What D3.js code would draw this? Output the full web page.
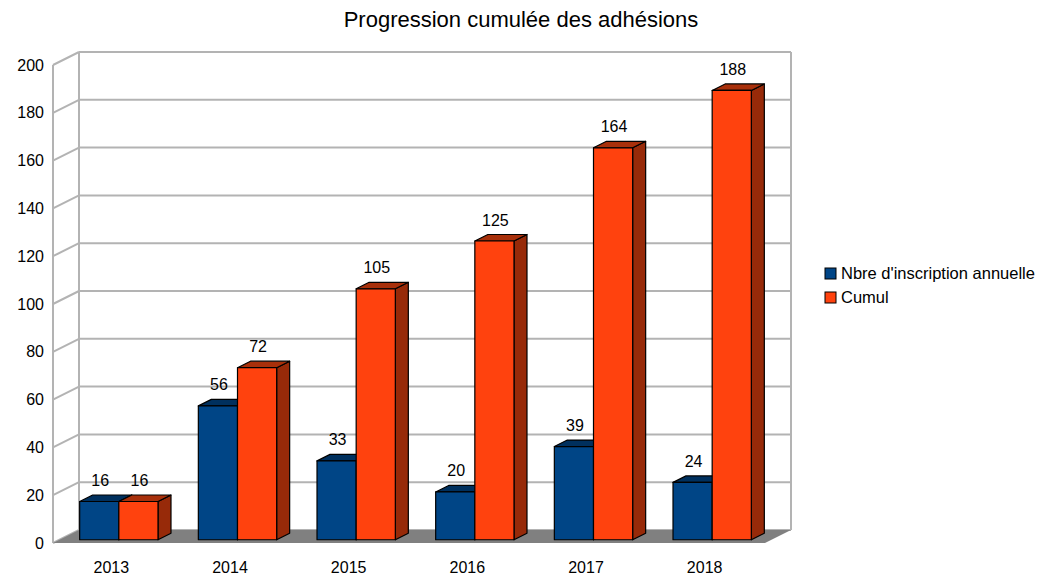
<!DOCTYPE html>
<html>
<head>
<meta charset="utf-8">
<script src="https://cdn.jsdelivr.net/npm/d3@7"></script>
<style>
  body { margin: 0; background: #fff; }
  text { font-family: "Liberation Sans", Arial, sans-serif; fill: #000; }
</style>
</head>
<body>
<script>
// data
const years = ["2013", "2014", "2015", "2016", "2017", "2018"];
const annuelle = [16, 56, 33, 20, 39, 24];
const cumul = [16, 72, 105, 125, 164, 188];
const seriesNames = ["Nbre d'inscription annuelle", "Cumul"];
const yTicks = [0, 20, 40, 60, 80, 100, 120, 140, 160, 180, 200];

const colors = {
  front: ["#004586", "#ff420e"],
  top: ["#00305e", "#a8300b"],
  side: ["#002b55", "#972a09"]
};

const W = 1046, H = 578;
const svg = d3.select("body").append("svg").attr("width", W).attr("height", H);

// front plane of the floor
const x = d3.scaleBand().domain(years).range([53, 765]).paddingInner(0.34).paddingOuter(0.17);
const xs = d3.scaleBand().domain([0, 1]).range([0, x.bandwidth()]);
const y = d3.scaleLinear().domain([0, 200]).range([543, 65]);

// depth of the wall / floor
const DX = 26, DY = 13;

const grid = "#b3b3b3";

// back wall grid lines
svg.append("g").selectAll("line").data(yTicks).join("line")
  .attr("x1", 53 + DX).attr("x2", 765 + DX)
  .attr("y1", d => y(d) - DY).attr("y2", d => y(d) - DY)
  .attr("stroke", grid).attr("stroke-width", 2);

// side wall lines
svg.append("g").selectAll("line").data(yTicks).join("line")
  .attr("x1", 53).attr("x2", 53 + DX)
  .attr("y1", d => y(d)).attr("y2", d => y(d) - DY)
  .attr("stroke", grid).attr("stroke-width", 2);

// wall verticals
[[53, 0], [53 + DX, -DY], [765 + DX, -DY]].forEach(([vx, off]) => {
  svg.append("line")
    .attr("x1", vx).attr("x2", vx)
    .attr("y1", y(0) + off).attr("y2", y(200) + off)
    .attr("stroke", grid).attr("stroke-width", 2);
});

// floor
svg.append("path")
  .attr("d", `M53,${y(0)} L765,${y(0)} L${765 + DX},${y(0) - DY} L${53 + DX},${y(0) - DY} Z`)
  .attr("fill", "#808080");

// y tick labels
const yAxis = svg.append("g").attr("transform", "translate(44,0)")
  .call(d3.axisLeft(y).tickValues(yTicks).tickSize(0).tickPadding(0));
yAxis.select(".domain").remove();
yAxis.selectAll("text").style("font-size", "16px").style("font-family", "Liberation Sans, Arial, sans-serif");

// category labels
svg.append("g").selectAll("text").data(years).join("text")
  .attr("x", d => x(d) + x.bandwidth() / 2 - 1)
  .attr("y", 573)
  .attr("text-anchor", "middle")
  .style("font-size", "16px")
  .text(d => d);

// bars sit in the middle of the depth
const bx = DX * 0.25, by = DY * 0.25;
const bdx = DX * 0.5, bdy = DY * 0.5;

const bars = [];
years.forEach((yr, i) => {
  [annuelle[i], cumul[i]].forEach((v, s) => {
    bars.push({ yr, v, s });
  });
});

const gb = svg.append("g");
bars.forEach(b => {
  const x0 = x(b.yr) + xs(b.s) + bx;
  const x1 = x0 + xs.bandwidth();
  const yt = y(b.v) - by;
  const yb = y(0) - by;
  const g = gb.append("g").attr("stroke", "#000").attr("stroke-width", 1.2).attr("stroke-linejoin", "round");
  g.append("path")
    .attr("d", `M${x1},${yt} L${x1 + bdx},${yt - bdy} L${x1 + bdx},${yb - bdy} L${x1},${yb} Z`)
    .attr("fill", colors.side[b.s]);
  g.append("path")
    .attr("d", `M${x0},${yt} L${x0 + bdx},${yt - bdy} L${x1 + bdx},${yt - bdy} L${x1},${yt} Z`)
    .attr("fill", colors.top[b.s]);
  g.append("rect")
    .attr("x", x0).attr("y", yt).attr("width", x1 - x0).attr("height", yb - yt)
    .attr("fill", colors.front[b.s]);
});

// value labels
svg.append("g").selectAll("text").data(bars).join("text")
  .attr("x", d => x(d.yr) + xs(d.s) + bx + xs.bandwidth() / 2 + 1)
  .attr("y", d => y(d.v) - by - bdy - 9)
  .attr("text-anchor", "middle")
  .style("font-size", "16px")
  .text(d => d.v);

// title
svg.append("text")
  .attr("x", 521).attr("y", 27)
  .attr("text-anchor", "middle")
  .style("font-size", "22px")
  .text("Progression cumulée des adhésions");

// legend
const lg = svg.append("g").attr("transform", "translate(825,268)");
seriesNames.forEach((n, i) => {
  lg.append("rect")
    .attr("x", 0).attr("y", i * 24).attr("width", 11).attr("height", 11)
    .attr("fill", colors.front[i]).attr("stroke", "#000").attr("stroke-width", 1);
  lg.append("text")
    .attr("x", 16).attr("y", i * 24 + 11)
    .style("font-size", "16.5px")
    .text(n);
});
</script>
</body>
</html>
